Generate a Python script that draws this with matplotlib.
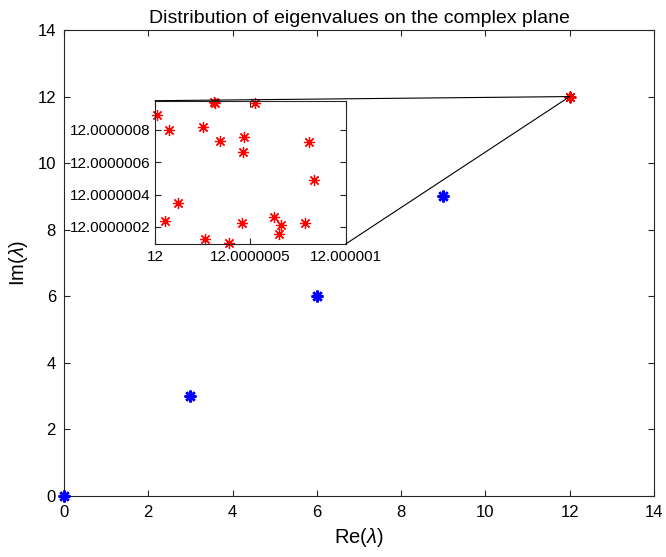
import matplotlib
matplotlib.use("Agg")
import matplotlib.pyplot as plt
from matplotlib.patches import ConnectionPatch
import numpy as np

plt.rcParams['font.family'] = ['Liberation Sans', 'DejaVu Sans']
plt.rcParams['mathtext.fontset'] = 'custom'
plt.rcParams['mathtext.it'] = 'Liberation Sans:italic'
plt.rcParams['mathtext.rm'] = 'Liberation Sans'

# Blue eigenvalues
blue_re = [0, 3, 6, 9]
blue_im = [0, 3, 6, 9]

# Red eigenvalue cluster near 12 (offsets in units of 1e-7)
red_re_off = [0.09, 0.73, 3.11, 3.16, 5.26, 2.52, 3.43, 4.67, 4.63, 8.08,
              8.34, 1.19, 0.52, 4.58, 6.26, 6.61, 6.49, 7.87, 2.62, 3.86]
red_im_off = [8.93, 8.00, 9.75, 9.65, 9.65, 8.16, 7.32, 7.59, 6.62, 7.28,
              4.89, 3.51, 2.39, 2.27, 2.64, 2.12, 1.57, 2.23, 1.24, 0.99]
base = 12.0
scale = 1e-7
red_re = [base + v * scale for v in red_re_off]
red_im = [base + v * scale for v in red_im_off]

main_ticks = [0, 2, 4, 6, 8, 10, 12, 14]
inset_xticks = [12.0, 12.0000005, 12.000001]
inset_xticklabels = ['12', '12.0000005', '12.000001']
inset_yticks = [12.0000002, 12.0000004, 12.0000006, 12.0000008]
inset_yticklabels = ['12.0000002', '12.0000004', '12.0000006', '12.0000008']

star = (8, 2, 0)
axcol = '#262626'

fig = plt.figure(figsize=(6.66, 5.57), dpi=100)
ax = fig.add_axes([64/666, 1 - 496/557, 590/666, 466/557])
ax.plot(red_re, red_im, linestyle='none', marker=star, color='red',
        markersize=8, markeredgewidth=0.9, clip_on=False)
ax.plot(blue_re, blue_im, linestyle='none', marker=star, color='blue',
        markersize=8.5, markeredgewidth=1.8, clip_on=False, zorder=5)
ax.set_xlim(0, 14)
ax.set_ylim(0, 14)
ax.set_xticks(main_ticks)
ax.set_yticks(main_ticks)
ax.tick_params(direction='in', top=True, right=True, labelsize=12,
               length=4, width=0.8, colors=axcol, labelcolor='black')
ax.tick_params(axis='x', pad=6.5)
ax.tick_params(axis='y', pad=5.8)
for s in ax.spines.values():
    s.set_color(axcol)
    s.set_linewidth(0.8)
ax.set_xlabel(r'Re($\lambda$)', fontsize=14.5, labelpad=4)
ax.set_ylabel(r'Im($\lambda$)', fontsize=14.5, labelpad=5)
ax.set_title('Distribution of eigenvalues on the complex plane', fontsize=14, pad=5)

# Inset
ins = fig.add_axes([155/666, 1 - 244/557, 190.7/666, 143.3/557])
ins.plot(red_re, red_im, linestyle='none', marker=star, color='red',
         markersize=8, markeredgewidth=0.9, clip_on=False)
ins.set_xlim(12.0, 12.000001)
ins.set_ylim(base + 0.948 * scale, base + 9.81 * scale)
ins.set_xticks(inset_xticks)
ins.set_xticklabels(inset_xticklabels)
ins.set_yticks(inset_yticks)
ins.set_yticklabels(inset_yticklabels)
ins.tick_params(direction='in', top=True, right=True, labelsize=11,
                length=4, width=0.8, colors=axcol, labelcolor='black')
ins.tick_params(axis='x', pad=4.5)
ins.tick_params(axis='y', pad=3.5)
for s in ins.spines.values():
    s.set_color(axcol)
    s.set_linewidth(0.8)

# Connector lines from inset corners to the cluster
for corner in [(0, 1), (1, 0)]:
    cp = ConnectionPatch(xyA=corner, coordsA=ins.transAxes,
                         xyB=(12, 12), coordsB=ax.transData,
                         color='black', linewidth=0.8)
    fig.add_artist(cp)

fig.savefig('out.png', dpi=100)
